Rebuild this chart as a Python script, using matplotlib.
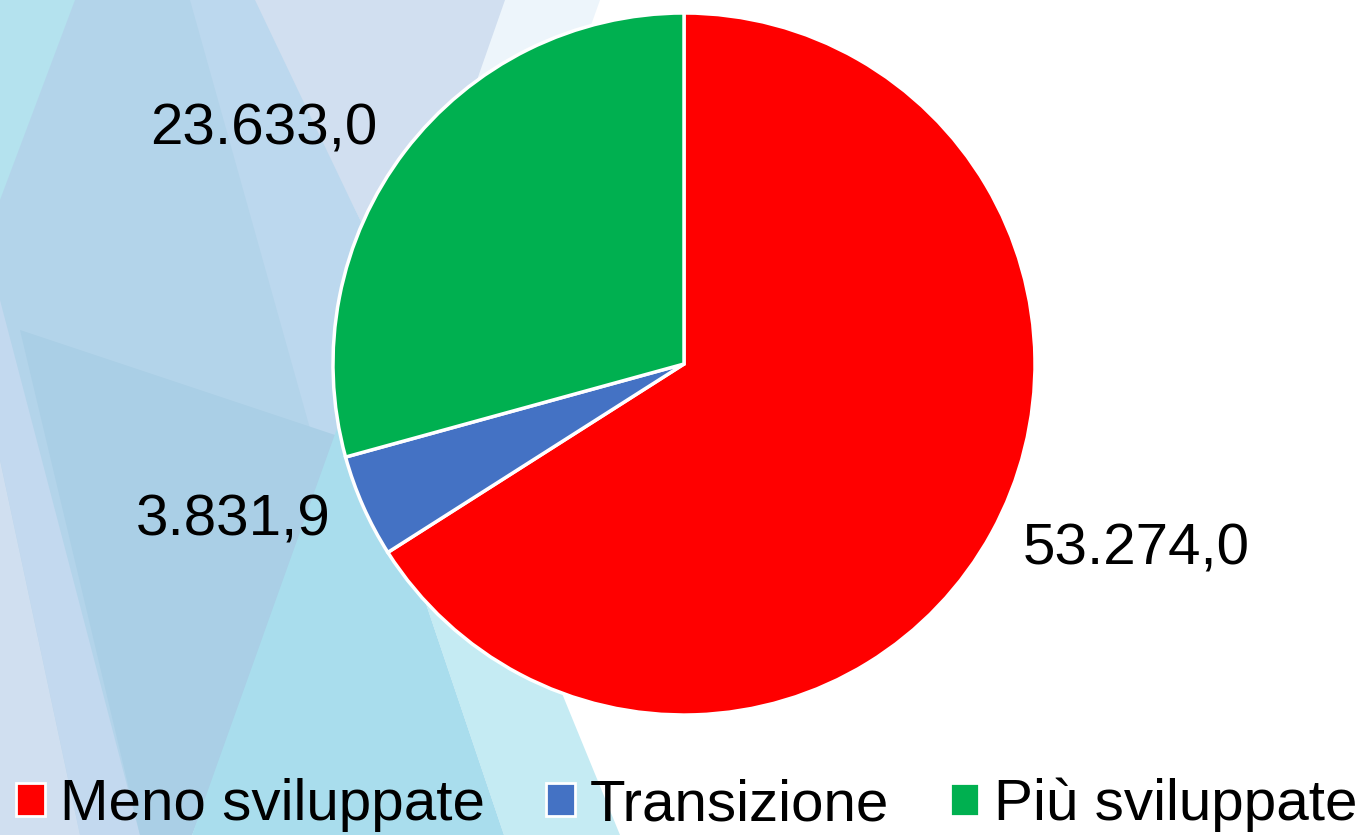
import matplotlib.pyplot as plt
from matplotlib.patches import Polygon, Patch

# Dati
categorie = ['Meno sviluppate', 'Transizione', 'Più sviluppate']
valori = [53274.0, 3831.9, 23633.0]
etichette = ['53.274,0', '3.831,9', '23.633,0']
colori = ['#ff0000', '#4472c4', '#00b050']

W, H = 1365, 835
plt.rcParams['font.family'] = ['Liberation Sans', 'DejaVu Sans']

fig = plt.figure(figsize=(W / 100, H / 100), dpi=100)
fig.patch.set_facecolor('white')

# Sfondo decorativo (forme traslucide, coordinate in pixel, y verso il basso)
bg = fig.add_axes([0, 0, 1, 1])
bg.set_xlim(0, W)
bg.set_ylim(H, 0)
bg.axis('off')
forme = [
    ([(488, 0), (600, 0), (450, 420), (364, 420)], '#edf5fb'),
    ([(450, 420), (364, 420), (504, 835), (620, 835)], '#c5ebf3'),
    ([(250, 0), (505, 0), (400, 300)], '#d1dff0'),
    ([(0, 0), (250, 0), (400, 300), (450, 420), (350, 440), (192, 835), (0, 835)], '#b3d4ea'),
    ([(190, 0), (255, 0), (380, 262), (330, 500)], '#bcd8ee'),
    ([(0, 0), (75, 0), (0, 200)], '#b4e2ee'),
    ([(0, 300), (0, 460), (80, 835), (140, 835)], '#c3d9ef'),
    ([(0, 460), (80, 835), (0, 835)], '#d0dff0'),
    ([(20, 330), (350, 440), (192, 835), (140, 835)], '#aacfe6'),
    ([(340, 420), (364, 420), (504, 835), (192, 835)], '#a9dded'),
]
for pts, c in forme:
    bg.add_patch(Polygon(pts, closed=True, facecolor=c, edgecolor='none'))

# Torta
ax = fig.add_axes([333 / W, (H - 715) / H, 702 / W, 702 / H])
ax.set_facecolor('none')
wedges, testi = ax.pie(valori, labels=etichette, colors=colori, startangle=90,
                       counterclock=False, labeldistance=1.1,
                       wedgeprops=dict(edgecolor='white', linewidth=2.5),
                       textprops=dict(fontsize=42, color='black'))
for t in testi:
    t.set_va('center')
ax.set_xlim(-1, 1)
ax.set_ylim(-1, 1)

# Legenda
handles = [Patch(facecolor=c, edgecolor='white', linewidth=2) for c in colori]
fig.legend(handles, categorie, loc='center', bbox_to_anchor=(0.503, 0.036),
           ncol=3, frameon=False, fontsize=42, handlelength=0.5, handleheight=0.5,
           handletextpad=0.25, columnspacing=1.05, borderaxespad=0, borderpad=0)

plt.savefig('out.png', dpi=100)
